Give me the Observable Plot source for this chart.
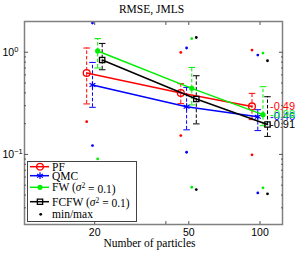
<!DOCTYPE html>
<html><head><meta charset="utf-8">
<script src="https://cdn.jsdelivr.net/npm/d3@7"></script>
<script src="https://cdn.jsdelivr.net/npm/@observablehq/plot@0.6"></script>
<style>
body{margin:0;background:#fff;}
#wrap{position:relative;width:299px;height:253px;}
</style></head><body><div id="wrap"></div>
<script>
// ---- data ----
const particles = [20, 50, 100];
const seriesNames = ["PF", "QMC", "FW", "FCFW"];
const seriesVariance = [null, null, 0.1, 0.1];
const meanPF = [0.626, 0.399, 0.295];
const loPF = [0.312, 0.314, 0.219];
const hiPF = [1.10, 0.492, 0.396];
const minPF = [0.209, 0.153, 0.099];
const maxPF = [null, 0.996, 1.05];
const meanQMC = [0.478, 0.293, 0.234];
const loQMC = [0.289, 0.174, 0.171];
const hiQMC = [0.795, 0.453, 0.274];
const minQMC = [0.122, 0.105, 0.042];
const maxQMC = [1.93, 1.10, 0.939];
const meanFW = [1.03, 0.443, 0.245];
const loFW = [0.701, 0.305, 0.191];
const hiFW = [1.36, 0.710, 0.460];
const minFW = [0.0904, 0.0477, 0.0471];
const maxFW = [null, 1.36, 0.982];
const meanFCFW = [0.839, 0.349, 0.196];
const loFCFW = [0.674, 0.199, 0.150];
const hiFCFW = [1.22, 0.589, 0.367];
const minFCFW = [null, 0.0453, 0.0411];
const maxFCFW = [null, 1.395, 0.826];
const slopeLabels = ["-0.49", "-0.46", "-0.98", "-0.91"];
const xTickLabels = [20, 50, 100];
const xTickMarks = [20, 40, 50, 100];
const yTickLabels = [0.1, 1];
const yMinorTicks = [0.03,0.04,0.05,0.06,0.07,0.08,0.09,0.2,0.3,0.4,0.5,0.6,0.7,0.8,0.9];
const titleText = "RMSE, JMLS";
const xLabelText = "Number of particles";
const minmaxLabel = "min/max";

// ---- styles ----
const colors = ["#ff0000", "#0000ff", "#00ee00", "#000000"];
const dodge = [-8, -2.2, 3, 7.5];
const serif = "'Liberation Serif', 'DejaVu Serif', serif";
const sans = "'Liberation Sans', Arial, sans-serif";

const groups = [
  [meanPF, loPF, hiPF, minPF, maxPF],
  [meanQMC, loQMC, hiQMC, minQMC, maxQMC],
  [meanFW, loFW, hiFW, minFW, maxFW],
  [meanFCFW, loFCFW, hiFCFW, minFCFW, maxFCFW]
];
const rows = groups.map((g, i) => particles.map((N, j) => ({
  series: seriesNames[i], N, mean: g[0][j], lo: g[1][j], hi: g[2][j], min: g[3][j], max: g[4][j],
  label: j === particles.length - 1 ? slopeLabels[i] : null
})));

const cap = {draw(ctx, size) { const w = Math.sqrt(size / Math.PI); ctx.moveTo(-w, 0); ctx.lineTo(w, 0); }};
const markerOpts = [
  {symbol: "circle", r: 3.4, stroke: colors[0], fill: "none", strokeWidth: 1.3},
  {symbol: "asterisk", r: 3.2, stroke: colors[1], fill: "none", strokeWidth: 1.2},
  {symbol: "circle", r: 2.6, fill: colors[2], stroke: "none"},
  {symbol: "square", r: 3, stroke: colors[3], fill: "none", strokeWidth: 1.3}
];

const marks = [];
rows.forEach((data, i) => {
  const dx = dodge[i], c = colors[i];
  marks.push(Plot.ruleX(data, {x: "N", y1: "lo", y2: "hi", dx, stroke: c, strokeWidth: 1, strokeDasharray: "3.5,2"}));
  marks.push(Plot.dot(data, {x: "N", y: "lo", dx, symbol: cap, r: 3.3, stroke: c, fill: "none", strokeWidth: 1}));
  marks.push(Plot.dot(data, {x: "N", y: "hi", dx, symbol: cap, r: 3.3, stroke: c, fill: "none", strokeWidth: 1}));
});
rows.forEach((data, i) => {
  const dx = dodge[i], c = colors[i];
  marks.push(Plot.line(data, {x: "N", y: "mean", dx, stroke: c, strokeWidth: 1.5}));
  marks.push(Plot.dot(data, {x: "N", y: "mean", dx, ...markerOpts[i]}));
  marks.push(Plot.dot(data.filter(d => d.min != null), {x: "N", y: "min", dx, r: 1.4, fill: c}));
  marks.push(Plot.dot(data.filter(d => d.max != null), {x: "N", y: "max", dx, r: 1.4, fill: c}));
});
rows.forEach((data, i) => {
  marks.push(Plot.text(data.filter(d => d.label), {x: "N", y: "mean", text: "label", dx: 10, textAnchor: "start",
    fill: colors[i], fontSize: 11, fontFamily: sans, clip: false}));
});

const chart = Plot.plot({
  width: 299, height: 253,
  marginLeft: 24, marginRight: 17, marginTop: 21, marginBottom: 29,
  style: {background: "#fff", overflow: "visible"},
  x: {type: "log", domain: [10.1, 124.5]},
  y: {type: "log", domain: [0.0206, 2.0]},
  clip: true,
  marks: [
    ...marks,
    Plot.frame({stroke: "#808080", strokeWidth: 1.5, clip: false}),
    Plot.axisX({anchor: "bottom", ticks: xTickMarks, tickSize: 3, inset: 3, tickFormat: () => "", label: null, stroke: "#555"}),
    Plot.axisX({anchor: "top", ticks: xTickMarks, tickSize: 3, inset: 3, tickFormat: () => "", label: null, stroke: "#555"}),
    Plot.axisX({anchor: "bottom", ticks: xTickLabels, tickSize: 0, tickPadding: 4, tickFormat: d => String(d), label: null, fontSize: 10.5, fontFamily: sans, fill: "#000"}),
    Plot.axisY({anchor: "left", ticks: yMinorTicks, tickSize: 2, inset: 2, tickFormat: () => "", label: null, stroke: "#555"}),
    Plot.axisY({anchor: "right", ticks: yMinorTicks, tickSize: 2, inset: 2, tickFormat: () => "", label: null, stroke: "#555"}),
    Plot.axisY({anchor: "left", ticks: yTickLabels, tickSize: 4, inset: 4, tickFormat: () => "", label: null, stroke: "#555"}),
    Plot.axisY({anchor: "right", ticks: yTickLabels, tickSize: 4, inset: 4, tickFormat: () => "", label: null, stroke: "#555"}),
    Plot.text(yTickLabels, {y: d => d, frameAnchor: "left", dx: -22, textAnchor: "start", text: d => "10^" + Math.round(Math.log10(d)), fontSize: 10.5, fontFamily: sans, fill: "#000", clip: false}),
    Plot.text([titleText], {frameAnchor: "top", text: d => d, dy: -12, dx: -2, fontSize: 11.5, fontFamily: serif, fill: "#000", lineAnchor: "middle", clip: false}),
    Plot.text([xLabelText], {frameAnchor: "bottom", text: d => d, dy: 19, dx: -4, fontSize: 11.5, fontFamily: serif, fill: "#000", lineAnchor: "middle", clip: false})
  ]
});
document.getElementById("wrap").appendChild(chart);

// superscript exponents on y tick labels
chart.querySelectorAll('text').forEach(t => {
  const s = t.textContent;
  if (!/^10\^/.test(s)) return;
  const [b, e] = s.split("^");
  t.textContent = b;
  const ts = document.createElementNS("http://www.w3.org/2000/svg", "tspan");
  ts.setAttribute("dy", "-0.45em");
  ts.setAttribute("font-size", "7.5");
  ts.textContent = e.replace("-", "\u2212");
  t.appendChild(ts);
});

// ---- legend ----
const L = d3.select("#wrap").append("svg").attr("width", 110).attr("height", 61)
  .style("position", "absolute").style("left", "27px").style("top", "161px");
L.append("rect").attr("x", 0.5).attr("y", 0.5).attr("width", 109).attr("height", 60).attr("fill", "#fff").attr("stroke", "#444").attr("stroke-width", 1);
const rowY = [5.7, 14.7, 26.3, 40.7, 53.3];
const legSymbols = [
  {type: d3.symbolCircle, size: Math.PI * 3.4 * 3.4, fill: "none", sw: 1.3},
  {type: d3.symbolAsterisk, size: Math.PI * 3.2 * 3.2, fill: "none", sw: 1.2},
  {type: d3.symbolCircle, size: Math.PI * 2.6 * 2.6, fill: "fill", sw: 0},
  {type: d3.symbolSquare, size: Math.PI * 3 * 3, fill: "none", sw: 1.3}
];
seriesNames.forEach((name, i) => {
  const y = rowY[i], c = colors[i];
  L.append("line").attr("x1", 3).attr("x2", 22).attr("y1", y).attr("y2", y).attr("stroke", c).attr("stroke-width", 1.5);
  const s = legSymbols[i];
  L.append("path").attr("d", d3.symbol(s.type, s.size)()).attr("transform", `translate(13,${y})`)
    .attr("fill", s.fill === "fill" ? c : "none").attr("stroke", s.fill === "fill" ? "none" : c).attr("stroke-width", s.sw);
  const t = L.append("text").attr("x", 25).attr("y", y).attr("dy", "0.35em").attr("font-family", serif).attr("font-size", 11.5).attr("fill", "#000");
  t.append("tspan").text(name);
  if (seriesVariance[i] != null) {
    t.append("tspan").text(" (");
    t.append("tspan").attr("font-style", "italic").text("σ");
    t.append("tspan").attr("dy", "-0.4em").attr("font-size", 7.5).text("2");
    t.append("tspan").attr("dy", "0.4em").text(" = " + seriesVariance[i] + ")");
  }
});
L.append("circle").attr("cx", 13.7).attr("cy", rowY[4]).attr("r", 1.4).attr("fill", "#000");
L.append("text").attr("x", 25).attr("y", rowY[4]).attr("dy", "0.35em").attr("font-family", serif).attr("font-size", 11.5).text(minmaxLabel);
</script></body></html>
